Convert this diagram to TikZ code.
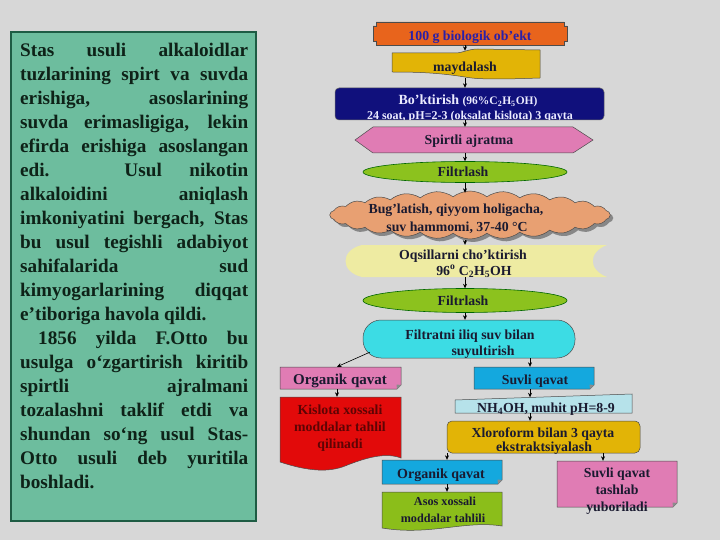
\documentclass[tikz,border=0pt]{standalone}
\usepackage{fontspec}
\setmainfont{Liberation Serif}
\usetikzlibrary{shapes.symbols,shapes.geometric,shadows,arrows.meta,calc,fit}
\definecolor{bg}{HTML}{D7D7D7}
\definecolor{boxg}{HTML}{6DBD9E}
\definecolor{boxb}{HTML}{1E5C44}
\definecolor{orng}{HTML}{E8641C}
\definecolor{goldc}{HTML}{E2B406}
\definecolor{navy}{HTML}{10107C}
\definecolor{pinkc}{HTML}{E07CB4}
\definecolor{lgreen}{HTML}{8CC21E}
\definecolor{tanc}{HTML}{E8A072}
\definecolor{paley}{HTML}{EEEBA2}
\definecolor{cyanc}{HTML}{3CDCE4}
\definecolor{bluec}{HTML}{14A8DE}
\definecolor{redc}{HTML}{E20A0A}
\definecolor{lcyan}{HTML}{B6E2EA}
\definecolor{asosc}{HTML}{8BBE1A}
\definecolor{tdark}{HTML}{1A1A30}
\definecolor{tblue}{HTML}{2A1FA8}
\definecolor{tred}{HTML}{5E0404}
\definecolor{ptext}{HTML}{0E2218}
\newcommand\jl[1]{\hbox to 228pt{#1}}
\newcommand\lastline[1]{\hbox to 228pt{#1\hfil}}
\newcommand\ff{\fontsize{13.8}{16}\selectfont\bfseries}
\newcommand\notebox[5]{%
  \filldraw[fill=#1, draw=black!70, line width=0.5pt] (#2,#3) -- (#4,#3) -- (#4,#5-4) -- (#4-4,#5) -- (#2,#5) -- cycle;
  \fill[black!45] (#4,#5-4) -- (#4-4,#5) -- (#4-4.5,#5-4.5) -- cycle;}
\begin{document}
\begin{tikzpicture}[x=1pt,y=-1pt,
  arr/.style={-{Stealth[length=4.5pt,width=4pt]}, line width=0.6pt, black},
  frm/.style={inner sep=0, draw=none},
  tx/.style={anchor=base, inner sep=0, font=\ff, text=tdark},
  edge/.style={draw=black!70, line width=0.5pt}]
\useasboundingbox (0,0) rectangle (720,540);
\fill[bg] (0,0) rectangle (720,540);

% left text box
\filldraw[fill=boxg, draw=boxb, line width=2.5pt] (11,32) rectangle (256,521);
\node[anchor=base west, inner sep=0, text=ptext] (para) at (20,57) {\vtop{\fontsize{19.2}{24}\selectfont\bfseries
\jl{Stas usuli alkaloidlar}
\jl{tuzlarining spirt va suvda}
\jl{erishiga, asoslarining}
\jl{suvda erimasligiga, lekin}
\jl{efirda erishiga asoslangan}
\jl{edi. Usul nikotin}
\jl{alkaloidini aniqlash}
\jl{imkoniyatini bergach, Stas}
\jl{bu usul tegishli adabiyot}
\jl{sahifalarida sud}
\jl{kimyogarlarining diqqat}
\lastline{e’tiboriga havola qildi.}
\jl{\hskip 18pt 1856 yilda F.Otto bu}
\jl{usulga o‘zgartirish kiritib}
\jl{spirtli ajralmani}
\jl{tozalashni taklif etdi va}
\jl{shundan so‘ng usul Stas-}
\jl{Otto usuli deb yuritila}
\lastline{boshladi.}}};

% axis coordinates
\coordinate (ax) at (465,0);
\coordinate (xL) at (337,0);
\coordinate (xR) at (530,0);
\coordinate (x2) at (447,0);
\coordinate (x3) at (603,0);

% 1 banner
\filldraw[fill=orng, edge] (376,22) -- (564,22) -- (564,26) -- (567,26) -- (567,41) -- (564,41) -- (564,45) -- (376,45) -- (376,41) -- (373,41) -- (373,26) -- (376,26) -- cycle;
\node[frm, fit={(373,22) (567,45)}] (b1) {};
\node[tx, text=tblue] (t1) at (470,41) {100 g biologik ob’ekt};

% 2 tape
\filldraw[fill=goldc, edge] (392,53) -- (455,53) .. controls (463,53) and (468,49) .. (478,49) -- (540,50) -- (540,78) .. controls (510,79) and (480,80) .. (465,77) .. controls (440,73) and (420,72) .. (392,72) -- cycle;
\node[frm, fit={(392,51) (540,78)}] (b2) {};
\node[tx] (t2) at (465,72) {maydalash};

% 3 blue rounded
\filldraw[fill=navy, draw=black!60, line width=0.5pt, rounded corners=4pt] (335,88) rectangle (604,120);
\node[frm, fit={(335,88) (604,120)}] (b3) {};
\begin{scope}
\clip (335,88) rectangle (604,120);
\node[tx, text=white!92!blue] (t3a) at (468,105) {{\fontsize{14}{16}\selectfont Bo’ktirish} {\fontsize{11.5}{13}\selectfont (96\%C\textsubscript{2}H\textsubscript{5}OH)}};
\node[tx, text=white!92!blue, font=\fontsize{12}{14}\selectfont\bfseries] (t3b) at (470,119.5) {24 soat, pH=2-3 (oksalat kislota) 3 qayta};
\end{scope}

% 4 hexagon
\filldraw[fill=pinkc, edge] (355,140) -- (373,127) -- (573,127) -- (593,140) -- (573,153) -- (373,153) -- cycle;
\node[frm, fit={(355,127) (593,153)}] (b4) {};
\node[tx] (t4) at (469,145) {Spirtli ajratma};

% 5 ellipse
\filldraw[fill=lgreen, draw=black!60!green, line width=0.6pt] (465,172) ellipse [x radius=102, y radius=10.5];
\node[frm, fit={(363,161.5) (567,182.5)}] (b5) {};
\node[tx] (t5) at (463,177) {Filtrlash};

% 6 cloud
\node[cloud, cloud puffs=26, cloud puff arc=75, aspect=6, fill=tanc, draw=black!70, line width=0.5pt,
  minimum width=280pt, minimum height=48pt, inner sep=0,
  drop shadow={shadow xshift=3pt, shadow yshift=-3pt, fill=black!55, opacity=0.8}] (cl) at (470,215) {};
\node[frm, fit={(330,192) (610,238)}] (b6) {};
\node[tx] (t6a) at (456,214) {Bug’latish, qiyyom holigacha,};
\node[tx] (t6b) at (457,232) {suv hammomi, 37-40 °C};

% 7 pale stored data
\fill[paley] (362,245) -- (607,245) .. controls (588,252) and (588,270) .. (607,277) -- (362,277) .. controls (340,272) and (340,250) .. (362,245) -- cycle;
\node[frm, fit={(345,245) (607,277)}] (b7) {};
\node[tx] (t7a) at (463,259) {Oqsillarni cho’ktirish};
\node[tx] (t7b) at (474,275) {96\textsuperscript{o} C\textsubscript{2}H\textsubscript{5}OH};

% 8 ellipse
\filldraw[fill=lgreen, draw=black!60!green, line width=0.6pt] (465,300.5) ellipse [x radius=102, y radius=12];
\node[frm, fit={(363,288.5) (567,312.5)}] (b8) {};
\node[tx] (t8) at (463,305) {Filtrlash};

% 9 cyan
\filldraw[fill=cyanc, edge, rounded corners=18pt] (363,320) rectangle (575,358);
\node[frm, fit={(363,320) (575,358)}] (b9) {};
\node[tx] (t9a) at (470,339) {Filtratni iliq suv bilan};
\node[tx] (t9b) at (483,355) {suyultirish};

% 10 organik left
\notebox{pinkc}{280}{367}{401}{389}
\node[frm, fit={(280,367) (401,389)}] (b10) {};
\node[tx, font=\fontsize{15}{17}\selectfont\bfseries] (t10) at (340,384) {Organik qavat};

% 11 suvli
\notebox{bluec}{474}{367}{594}{389}
\node[frm, fit={(474,367) (594,389)}] (b11) {};
\node[tx] (t11) at (535,384) {Suvli qavat};

% 12 red document
\filldraw[fill=redc, edge] (280,397) -- (401,397) -- (401,458) .. controls (385,452) and (365,458) .. (345,466) .. controls (330,472) and (310,472) .. (280,462) -- cycle;
\node[frm, fit={(280,397) (401,467)}] (b12) {};
\node[tx, text=tred] (t12a) at (340,414) {Kislota xossali};
\node[tx, text=tred] (t12b) at (340,431) {moddalar tahlil};
\node[tx, text=tred] (t12c) at (340,448) {qilinadi};

% 13 manual input
\filldraw[fill=lcyan, edge] (455,400) -- (632,394) -- (632,413) -- (455,413) -- cycle;
\node[frm, fit={(455,394) (632,413)}] (b13) {};
\node[tx] (t13) at (546,412) {NH\textsubscript{4}OH, muhit pH=8-9};

% 14 xloroform
\filldraw[fill=goldc, edge, rounded corners=5pt] (447,421) rectangle (640,453);
\node[frm, fit={(447,421) (640,453)}] (b14) {};
\node[tx] (t14a) at (543,437) {Xloroform bilan 3 qayta};
\node[tx] (t14b) at (544,451) {ekstraktsiyalash};

% 15 organik 2
\notebox{bluec}{382}{460}{502}{484}
\node[frm, fit={(382,460) (502,484)}] (b15) {};
\node[tx, font=\fontsize{14}{16}\selectfont\bfseries] (t15) at (441,478) {Organik qavat};

% 16 asos document
\filldraw[fill=asosc, edge] (382,492) -- (502,492) -- (502,526) .. controls (465,520) and (430,536) .. (382,528) -- cycle;
\node[frm, fit={(382,492) (502,528)}] (b16) {};
\node[tx, font=\fontsize{12.2}{14}\selectfont\bfseries] (t16a) at (445,505) {Asos xossali};
\node[tx, font=\fontsize{12.2}{14}\selectfont\bfseries] (t16b) at (443,522) {moddalar tahlili};

% 17 suvli 2
\notebox{pinkc}{557}{461}{677}{507}
\node[frm, fit={(557,461) (677,507)}] (b17) {};
\node[tx] (t17a) at (617,477) {Suvli qavat};
\node[tx] (t17b) at (617,494) {tashlab};
\node[tx] (t17c) at (617,511) {yuboriladi};

% connectors
\draw[arr] (b1.south -| ax) -- (b2.north -| ax);
\draw[arr] (b2.south -| ax) -- (b3.north -| ax);
\draw[arr] (b3.south -| ax) -- (b4.north -| ax);
\draw[arr] (b4.south -| ax) -- (b5.north -| ax);
\draw[arr] (b5.south -| ax) -- ($(b6.north -| ax)+(0,1)$);
\draw[arr] ($(b6.south -| ax)+(0,2)$) -- (b7.north -| ax);
\draw[arr] (b7.south -| ax) -- (b8.north -| ax);
\draw[arr] (b8.south -| ax) -- (b9.north -| ax);
\draw[arr] ($(b9.south west)+(7,-6)$) -- (b10.north -| xL);
\draw[arr] (b9.south -| xR) -- (b11.north -| xR);
\draw[arr] (b10.south -| xL) -- (b12.north -| xL);
\draw[arr] (b11.south -| xR) -- ($(b13.north -| xR)+(0,3.5)$);
\draw[arr] (b13.south -| xR) -- (b14.north -| xR);
\draw[arr] (b14.south -| x2) -- (b15.north -| x2);
\draw[arr] (b14.south -| x3) -- (b17.north -| x3);
\draw[arr] (b15.south -| x2) -- (b16.north -| x2);
\end{tikzpicture}
\end{document}
